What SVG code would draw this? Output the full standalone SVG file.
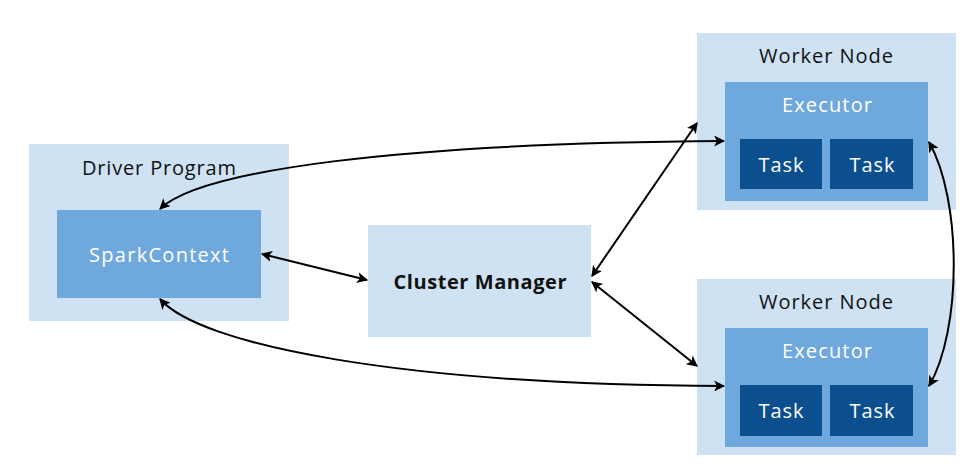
<svg xmlns="http://www.w3.org/2000/svg" width="980" height="470" viewBox="0 0 980 470">
<defs>
<marker id="ah" viewBox="0 0 10 10" refX="9" refY="5" markerWidth="11" markerHeight="11" markerUnits="userSpaceOnUse" orient="auto-start-reverse">
<path d="M0,0 L10,5 L0,10 L2.5,5 Z" fill="#000"/>
</marker>
<style>
.outer{fill:#cfe2f3}
.mid{fill:#6fa8dc}
.task{fill:#0b4f8f}
.lbl{font-family:"Open Sans","Liberation Sans",sans-serif;font-size:20px;text-anchor:middle;fill:#111}
.wl{font-family:"Open Sans","Liberation Sans",sans-serif;font-size:20px;text-anchor:middle;fill:#fff}
.bold{font-family:"Open Sans","Liberation Sans",sans-serif;font-size:20px;font-weight:bold;text-anchor:middle;fill:#111}
.conn{fill:none;stroke:#000;stroke-width:2;marker-start:url(#ah);marker-end:url(#ah)}
</style>
</defs>
<rect width="980" height="470" fill="#fff"/>
<g id="driver">
<rect class="outer" x="29" y="144" width="260" height="177"/>
<text class="lbl" x="159" y="175" textLength="154" lengthAdjust="spacing">Driver Program</text>
<g id="sparkcontext">
<rect class="mid" x="57" y="210" width="204" height="88"/>
<text class="wl" x="159" y="262" textLength="140" lengthAdjust="spacing">SparkContext</text>
</g>
</g>
<g id="cluster-manager">
<rect class="outer" x="368" y="225" width="223" height="112"/>
<text class="bold" x="480" y="289" textLength="173" lengthAdjust="spacing">Cluster Manager</text>
</g>
<g id="worker1">
<rect class="outer" x="697" y="33" width="259" height="177"/>
<text class="lbl" x="826" y="63" textLength="134" lengthAdjust="spacing">Worker Node</text>
<g id="executor1">
<rect class="mid" x="725" y="82" width="203" height="119"/>
<text class="wl" x="827" y="112" textLength="90" lengthAdjust="spacing">Executor</text>
<rect class="task" x="740" y="139" width="82" height="50"/>
<text class="wl" x="781" y="172" textLength="45" lengthAdjust="spacing">Task</text>
<rect class="task" x="830" y="139" width="83" height="50"/>
<text class="wl" x="872" y="172" textLength="45" lengthAdjust="spacing">Task</text>
</g>
</g>
<g id="worker2">
<rect class="outer" x="697" y="279" width="259" height="176"/>
<text class="lbl" x="826" y="309" textLength="134" lengthAdjust="spacing">Worker Node</text>
<g id="executor2">
<rect class="mid" x="725" y="328" width="203" height="119"/>
<text class="wl" x="827" y="358" textLength="90" lengthAdjust="spacing">Executor</text>
<rect class="task" x="740" y="385" width="82" height="51"/>
<text class="wl" x="781" y="418" textLength="45" lengthAdjust="spacing">Task</text>
<rect class="task" x="830" y="385" width="83" height="51"/>
<text class="wl" x="872" y="418" textLength="45" lengthAdjust="spacing">Task</text>
</g>
</g>
<g id="connectors">
<path class="conn" d="M160,209 C200,170 400,143 724,141"/>
<path class="conn" d="M160,299 C200,345 400,385 724,386"/>
<path class="conn" d="M262,254 L367,280"/>
<path class="conn" d="M592,276 L697,123"/>
<path class="conn" d="M592,282 L697,366"/>
<path class="conn" d="M929,142 C962,200 962,330 929,386"/>
</g>
</svg>
